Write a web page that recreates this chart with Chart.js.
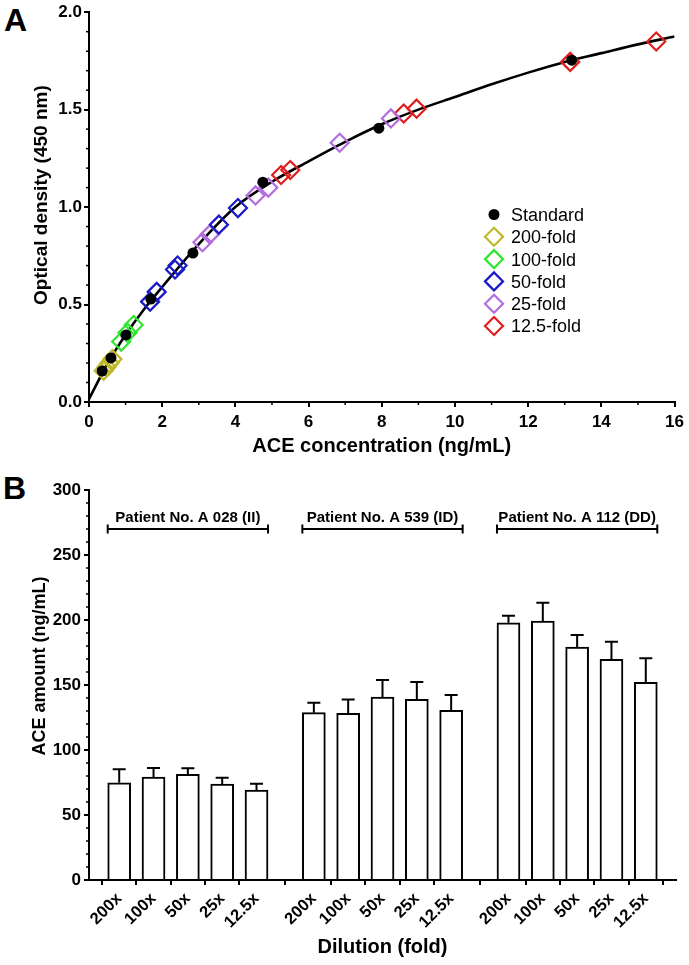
<!DOCTYPE html>
<html><head><meta charset="utf-8">
<script src="https://cdn.jsdelivr.net/npm/chart.js@4.4.1/dist/chart.umd.min.js"></script>
<style>
html,body{margin:0;padding:0;background:#fff;}
body{width:689px;height:965px;position:relative;overflow:hidden;font-family:"Liberation Sans",Arial,sans-serif;}
#ca{position:absolute;left:0;top:0;}
#cb{position:absolute;left:0;top:470px;}
.lbl{position:absolute;font-weight:bold;font-size:32px;line-height:32px;color:#000;}
</style></head><body>
<div class="lbl" style="left:4px;top:4px;">A</div>
<div class="lbl" style="left:3px;top:472px;">B</div>
<canvas id="ca" width="689" height="470"></canvas>
<canvas id="cb" width="689" height="495"></canvas>
<script>
// ---------- Panel A data ----------
const curveX = [0,0.5,1,1.5,2,3,4,5,6,7,8,9,10,11,12,13,14,15,16];
const curveY = [0.015,0.195,0.345,0.475,0.59,0.81,1.0,1.13,1.235,1.335,1.425,1.5,1.565,1.63,1.69,1.745,1.79,1.835,1.875];
const stdX = [0.36,0.6,1.01,1.69,2.84,4.75,7.92,13.19];
const stdY = [0.159,0.226,0.344,0.528,0.764,1.128,1.405,1.754];
const f200X = [0.4,0.48,0.56,0.64];
const f200Y = [0.16,0.18,0.2,0.22];
const f100X = [0.88,1.05,1.22];
const f100Y = [0.31,0.355,0.395];
const f50X = [1.67,1.85,2.35,2.42,3.55,4.07];
const f50Y = [0.515,0.565,0.68,0.70,0.91,0.995];
const f25X = [3.1,3.3,4.55,4.9,6.85,8.25];
const f25Y = [0.82,0.86,1.06,1.1,1.33,1.455];
const f12X = [5.25,5.5,8.6,8.95,13.15,15.5];
const f12Y = [1.165,1.19,1.48,1.505,1.745,1.85];
const seriesNames = ['Standard','200-fold','100-fold','50-fold','25-fold','12.5-fold'];
const xTicksA = [0,2,4,6,8,10,12,14,16];
const yTicksA = ['0.0','0.5','1.0','1.5','2.0'];

// ---------- Panel B data ----------
const dilutions = ['200x','100x','50x','25x','12.5x'];
const patients = ['Patient No. A 028 (II)','Patient No. A 539 (ID)','Patient No. A 112 (DD)'];
const meanII = [74.8,79.2,81.3,73.8,69.2];
const errII  = [10.3,7.0,4.6,4.9,4.8];
const meanID = [128.7,128.2,140.8,139.0,130.5];
const errID  = [7.7,10.7,13.0,13.3,11.8];
const meanDD = [197.9,199.2,179.2,169.7,152.0];
const errDD  = [5.4,14.1,9.3,13.6,18.5];
const yTicksB = [0,50,100,150,200,250,300];

const FONT = '"Liberation Sans", Arial, sans-serif';
Chart.defaults.font.family = FONT;
Chart.defaults.color = '#000';

const colors = ['#000000','#bfb82a','#2de62d','#1a1ac8','#b36ddf','#e01e1e'];
const zip = (xs, ys) => xs.map((x, i) => ({x, y: ys[i]}));

// ---------- plugins ----------
const minorTicks = {
  id: 'minorTicks',
  afterDraw(chart, args, opts) {
    const ctx = chart.ctx;
    ctx.save();
    ctx.strokeStyle = '#000';
    ctx.lineWidth = 1.5;
    (opts.axes || []).forEach(a => {
      const s = chart.scales[a.id];
      const n0 = Math.ceil(s.min / a.step - 1e-6), n1 = Math.floor(s.max / a.step + 1e-6);
      for (let n = n0; n <= n1; n++) {
        const v = n * a.step;
        const r = v / a.major;
        if (Math.abs(r - Math.round(r)) < 1e-6) continue;
        const p = s.getPixelForValue(v);
        ctx.beginPath();
        if (s.isHorizontal()) { ctx.moveTo(p, s.top); ctx.lineTo(p, s.top + a.len); }
        else { ctx.moveTo(s.right, p); ctx.lineTo(s.right - a.len, p); }
        ctx.stroke();
      }
    });
    ctx.restore();
  }
};

const yTitle = {
  id: 'yTitle',
  afterDraw(chart, args, opts) {
    const ctx = chart.ctx;
    const ca = chart.chartArea;
    ctx.save();
    ctx.translate(opts.x, (ca.top + ca.bottom) / 2 + opts.shift);
    ctx.rotate(-Math.PI / 2);
    ctx.font = 'bold ' + opts.size + 'px ' + FONT;
    ctx.fillStyle = '#000';
    ctx.textAlign = 'center';
    ctx.textBaseline = 'alphabetic';
    ctx.fillText(opts.text, 0, 0);
    ctx.restore();
  }
};

function diamond(ctx, x, y, r) {
  ctx.beginPath();
  ctx.moveTo(x - r, y); ctx.lineTo(x, y - r); ctx.lineTo(x + r, y); ctx.lineTo(x, y + r);
  ctx.closePath();
}

const insideLegend = {
  id: 'insideLegend',
  afterDraw(chart, args, opts) {
    const ctx = chart.ctx;
    ctx.save();
    ctx.font = opts.size + 'px ' + FONT;
    ctx.textBaseline = 'alphabetic';
    ctx.textAlign = 'left';
    seriesNames.forEach((name, i) => {
      const yc = opts.y + i * opts.step;
      if (i === 0) {
        ctx.fillStyle = colors[0];
        ctx.beginPath(); ctx.arc(opts.x, yc, 5.5, 0, Math.PI * 2); ctx.fill();
      } else {
        ctx.strokeStyle = colors[i]; ctx.lineWidth = 2.2;
        diamond(ctx, opts.x, yc, 9); ctx.stroke();
      }
      ctx.fillStyle = '#000';
      ctx.fillText(name, opts.x + 17, yc + 6.4);
    });
    ctx.restore();
  }
};

const errorBars = {
  id: 'errorBars',
  afterDatasetsDraw(chart, args, opts) {
    const ctx = chart.ctx, xs = chart.scales.x, ys = chart.scales.y;
    ctx.save();
    ctx.strokeStyle = '#000';
    ctx.lineWidth = 2;
    chart.data.datasets.forEach((ds) => {
      ds.data.forEach((pt, i) => {
        const x = xs.getPixelForValue(pt.x);
        const y0 = ys.getPixelForValue(pt.y);
        const y1 = ys.getPixelForValue(pt.y + ds.errors[i]);
        ctx.beginPath();
        ctx.moveTo(x, y0); ctx.lineTo(x, y1);
        ctx.moveTo(x - opts.cap, y1); ctx.lineTo(x + opts.cap, y1);
        ctx.stroke();
      });
      // group bracket and label
      const xa = xs.getPixelForValue(ds.data[0].x) - opts.half;
      const xb = xs.getPixelForValue(ds.data[ds.data.length - 1].x) + opts.half;
      const yb = ys.getPixelForValue(opts.level);
      ctx.beginPath();
      ctx.moveTo(xa, yb); ctx.lineTo(xb, yb);
      ctx.moveTo(xa, yb - 4.5); ctx.lineTo(xa, yb + 4.5);
      ctx.moveTo(xb, yb - 4.5); ctx.lineTo(xb, yb + 4.5);
      ctx.stroke();
      ctx.fillStyle = '#000';
      ctx.font = 'bold 15px ' + FONT;
      ctx.textAlign = 'center';
      ctx.textBaseline = 'alphabetic';
      ctx.fillText(ds.label, (xa + xb) / 2, yb - 7);
    });
    ctx.restore();
  }
};

const axisCommon = {
  grid: {drawOnChartArea: false, drawTicks: true, tickLength: 5, tickWidth: 2, tickColor: '#000', color: '#000', lineWidth: 2},
  border: {display: true, color: '#000', width: 2}
};

// ---------- Panel A ----------
const diamondSet = (label, xs, ys, c) => ({
  label, data: zip(xs, ys), pointStyle: 'rectRot', pointRadius: 9, pointBorderWidth: 2.2,
  borderColor: c, pointBorderColor: c, backgroundColor: 'rgba(0,0,0,0)', pointBackgroundColor: 'rgba(0,0,0,0)', showLine: false
});

new Chart(document.getElementById('ca'), {
  type: 'scatter',
  data: {
    datasets: [
      {label: 'Standard', data: zip(stdX, stdY), pointStyle: 'circle', pointRadius: 5.5, pointBorderWidth: 0,
       backgroundColor: '#000', pointBackgroundColor: '#000', borderColor: '#000', showLine: false},
      diamondSet('200-fold', f200X, f200Y, colors[1]),
      diamondSet('100-fold', f100X, f100Y, colors[2]),
      diamondSet('50-fold', f50X, f50Y, colors[3]),
      diamondSet('25-fold', f25X, f25Y, colors[4]),
      diamondSet('12.5-fold', f12X, f12Y, colors[5]),
      {label: 'fit', data: zip(curveX, curveY), showLine: true, pointRadius: 0, borderColor: '#000', borderWidth: 2.6,
       cubicInterpolationMode: 'monotone', fill: false}
    ]
  },
  options: {
    responsive: false, animation: false, devicePixelRatio: 1,
    layout: {padding: {left: 0, right: 14, top: 12, bottom: 0}},
    plugins: {
      legend: {display: false}, tooltip: {enabled: false},
      minorTicks: {axes: [{id: 'x', step: 1, major: 2, len: 3}, {id: 'y', step: 0.1, major: 0.5, len: 3}]},
      yTitle: {text: 'Optical density (450 nm)', size: 19, x: 47, shift: -12},
      insideLegend: {x: 494, y: 214.5, step: 22.3, size: 18}
    },
    scales: {
      x: Object.assign({}, axisCommon, {
        type: 'linear', min: xTicksA[0], max: xTicksA[xTicksA.length - 1],
        afterFit: s => { s.height = 68; },
        afterBuildTicks: s => { s.ticks = xTicksA.map(v => ({value: v})); },
        ticks: {font: {size: 17, weight: 'bold'}, padding: 5, maxRotation: 0, callback: v => String(v)},
        title: {display: true, text: 'ACE concentration (ng/mL)', font: {size: 20, weight: 'bold'}, padding: {top: 0, bottom: 12}}
      }),
      y: Object.assign({}, axisCommon, {
        type: 'linear', min: 0, max: 2,
        afterFit: s => { s.width = 89; },
        afterBuildTicks: s => { s.ticks = yTicksA.map(v => ({value: parseFloat(v)})); },
        ticks: {font: {size: 17, weight: 'bold'}, padding: 2, callback: (v, i) => yTicksA[i]}
      })
    }
  },
  plugins: [minorTicks, yTitle, insideLegend]
});

// ---------- Panel B ----------
const GROUP_STRIDE = 5.67;
const groupData = [meanII, meanID, meanDD];
const groupErr = [errII, errID, errDD];
const barPos = [];
groupData.forEach((g, gi) => g.forEach((v, i) => barPos.push(gi * GROUP_STRIDE + i)));

new Chart(document.getElementById('cb'), {
  type: 'bar',
  data: {
    datasets: patients.map((p, gi) => ({
      label: p,
      data: groupData[gi].map((v, i) => ({x: gi * GROUP_STRIDE + i, y: v})),
      errors: groupErr[gi],
      backgroundColor: '#fff', borderColor: '#000', borderWidth: 2,
      barThickness: 23, grouped: false, borderSkipped: 'start'
    }))
  },
  options: {
    responsive: false, animation: false, devicePixelRatio: 1,
    layout: {padding: {left: 0, right: 13, top: 20, bottom: 0}},
    plugins: {
      legend: {display: false}, tooltip: {enabled: false},
      minorTicks: {axes: [{id: 'y', step: 10, major: 50, len: 3}]},
      yTitle: {text: 'ACE amount (ng/mL)', size: 18, x: 45, shift: -19},
      errorBars: {cap: 6.5, half: 11.5, level: 270}
    },
    scales: {
      x: Object.assign({}, axisCommon, {
        type: 'linear', min: -0.88, max: 16.22, offset: false,
        afterFit: s => { s.height = 85; },
        afterBuildTicks: s => { s.ticks = barPos.map(v => ({value: v})); },
        ticks: {font: {size: 16.5, weight: 'bold'}, padding: 4, minRotation: 45, maxRotation: 45, autoSkip: false,
                callback: (v, i) => dilutions[i % dilutions.length]},
        title: {display: true, text: 'Dilution (fold)', font: {size: 20, weight: 'bold'}, padding: {top: 0, bottom: 6}}
      }),
      y: Object.assign({}, axisCommon, {
        type: 'linear', min: 0, max: 300,
        afterFit: s => { s.width = 89; },
        afterBuildTicks: s => { s.ticks = yTicksB.map(v => ({value: v})); },
        ticks: {font: {size: 17, weight: 'bold'}, padding: 3, callback: v => String(v)}
      })
    }
  },
  plugins: [minorTicks, yTitle, errorBars]
});
</script>
</body></html>
